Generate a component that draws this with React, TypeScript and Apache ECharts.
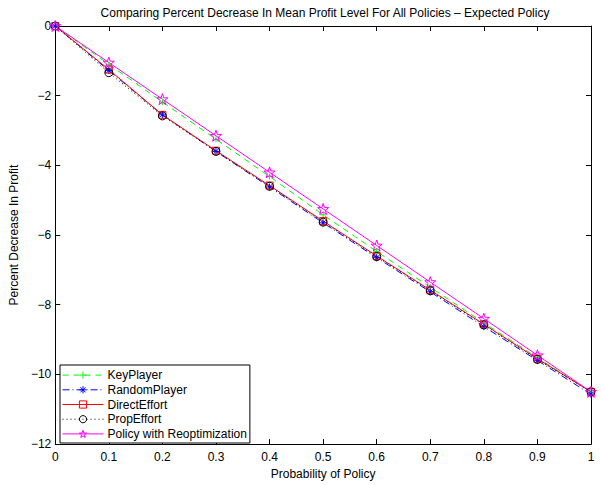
import React, { useEffect, useRef } from "react";
import * as echarts from "echarts";

const probabilities = [0, 0.1, 0.2, 0.3, 0.4, 0.5, 0.6, 0.7, 0.8, 0.9, 1];
const keyPlayer = [0, -1.1, -2.18, -3.25, -4.32, -5.42, -6.47, -7.5, -8.52, -9.52, -10.5];
const randomPlayer = [0, -1.28, -2.55, -3.6, -4.62, -5.65, -6.65, -7.63, -8.63, -9.6, -10.57];
const directEffort = [0, -1.25, -2.55, -3.58, -4.58, -5.6, -6.6, -7.58, -8.56, -9.55, -10.5];
const propEffort = [0, -1.34, -2.58, -3.6, -4.6, -5.63, -6.62, -7.6, -8.58, -9.57, -10.5];
const reoptimization = [0, -1.05, -2.1, -3.15, -4.2, -5.25, -6.3, -7.35, -8.4, -9.45, -10.5];

const seriesNames = ["KeyPlayer", "RandomPlayer", "DirectEffort", "PropEffort", "Policy with Reoptimization"];
const xTicks = { min: 0, max: 1, interval: 0.1 };
const yTicks = { min: -12, max: 0, interval: 2 };

const FONT = "'Liberation Sans', Arial, Helvetica, sans-serif";

function starPath(): string {
  const pts: string[] = [];
  for (let i = 0; i < 10; i++) {
    const r = i % 2 === 0 ? 10 : 4;
    const a = -Math.PI / 2 + (i * Math.PI) / 5;
    pts.push(`${(r * Math.cos(a)).toFixed(3)},${(r * Math.sin(a)).toFixed(3)}`);
  }
  return "path://M" + pts.join("L") + "Z";
}

const plusSym = "path://M0,-5L0,5M-5,0L5,0";
const asteriskSym = "path://M0,-5L0,5M-5,0L5,0M-3.5,-3.5L3.5,3.5M-3.5,3.5L3.5,-3.5";

function pairs(vals: number[]) {
  return probabilities.map((p, i) => [p, vals[i]]);
}

export default function App() {
  const ref = useRef<HTMLDivElement>(null);
  useEffect(() => {
    if (!ref.current) return;
    const chart = echarts.init(ref.current, undefined, { renderer: "svg" });
    const axisCommon = {
      axisLine: { show: true, onZero: false, lineStyle: { color: "#000", width: 1 } },
      axisTick: { show: true, inside: true, length: 5, lineStyle: { color: "#000" } },
      splitLine: { show: false },
    };
    const mk = (
      name: string,
      vals: number[],
      color: string,
      dash: any,
      symbol: string,
      size: number
    ) => ({
      name,
      type: "line",
      data: pairs(vals),
      symbol,
      symbolSize: size,
      showAllSymbol: true,
      lineStyle: { color, width: 1, type: dash },
      itemStyle: { color: "none", borderColor: color, borderWidth: 1 },
      emphasis: { disabled: true },
      z: 2,
    });
    chart.setOption({
      animation: false,
      textStyle: { fontFamily: FONT },
      grid: { left: 55, right: 10, top: 26, bottom: 38, show: false },
      graphic: [
        {
          type: "text",
          x: 325,
          y: 13,
          style: {
            text: "Comparing Percent Decrease In Mean Profit Level For All Policies \u2013 Expected Policy",
            fontSize: 12,
            fontFamily: FONT,
            fill: "#000",
            align: "center",
            verticalAlign: "middle",
          },
        },
      ],
      xAxis: [
        {
          type: "value",
          position: "bottom",
          ...xTicks,
          ...axisCommon,
          name: "Probability of Policy",
          nameLocation: "middle",
          nameGap: 20,
          nameTextStyle: { fontSize: 12, color: "#000", fontFamily: FONT },
          axisLabel: {
            color: "#000",
            fontSize: 12,
            margin: 7,
            fontFamily: FONT,
            formatter: (v: number) => String(+v.toFixed(1)),
          },
        },
        {
          type: "value",
          position: "top",
          ...xTicks,
          ...axisCommon,
          axisLabel: { show: false },
        },
      ],
      yAxis: [
        {
          type: "value",
          position: "left",
          ...yTicks,
          ...axisCommon,
          name: "Percent Decrease In Profit",
          nameLocation: "middle",
          nameGap: 32,
          nameTextStyle: { fontSize: 12, color: "#000", fontFamily: FONT },
          axisLabel: {
            color: "#000",
            fontSize: 12,
            margin: 4,
            fontFamily: FONT,
            formatter: (v: number) => (v < 0 ? "\u2212" + Math.abs(v) : String(v)),
          },
        },
        {
          type: "value",
          position: "right",
          ...yTicks,
          ...axisCommon,
          axisLabel: { show: false },
        },
      ],
      legend: {
        orient: "vertical",
        left: 60,
        top: 365,
        data: seriesNames,
        itemWidth: 41,
        itemHeight: 9,
        itemGap: 2.5,
        padding: [4, 3, 3, 2],
        borderColor: "#000",
        borderWidth: 1,
        backgroundColor: "#fff",
        lineStyle: { width: 1 },
        itemStyle: { borderWidth: 1 },
        textStyle: { fontSize: 12, lineHeight: 12, color: "#000", fontFamily: FONT, padding: [0, 0, 0, -1] },
        selectedMode: false,
        z: 10,
      },
      series: [
        mk(seriesNames[0], keyPlayer, "#00ff00", [6, 5], plusSym, 6),
        mk(seriesNames[1], randomPlayer, "#0000ff", [7, 3, 1, 3], asteriskSym, 7),
        mk(seriesNames[2], directEffort, "#ff0000", "solid", "rect", 7),
        mk(seriesNames[3], propEffort, "#000000", [1, 3], "circle", 8),
        mk(seriesNames[4], reoptimization, "#ff00ff", "solid", starPath(), 11),
      ],
    });
    return () => chart.dispose();
  }, []);
  return (
    <div
      ref={ref}
      style={{ position: "fixed", left: 0, top: 0, width: 601, height: 485, background: "#fff" }}
    />
  );
}
